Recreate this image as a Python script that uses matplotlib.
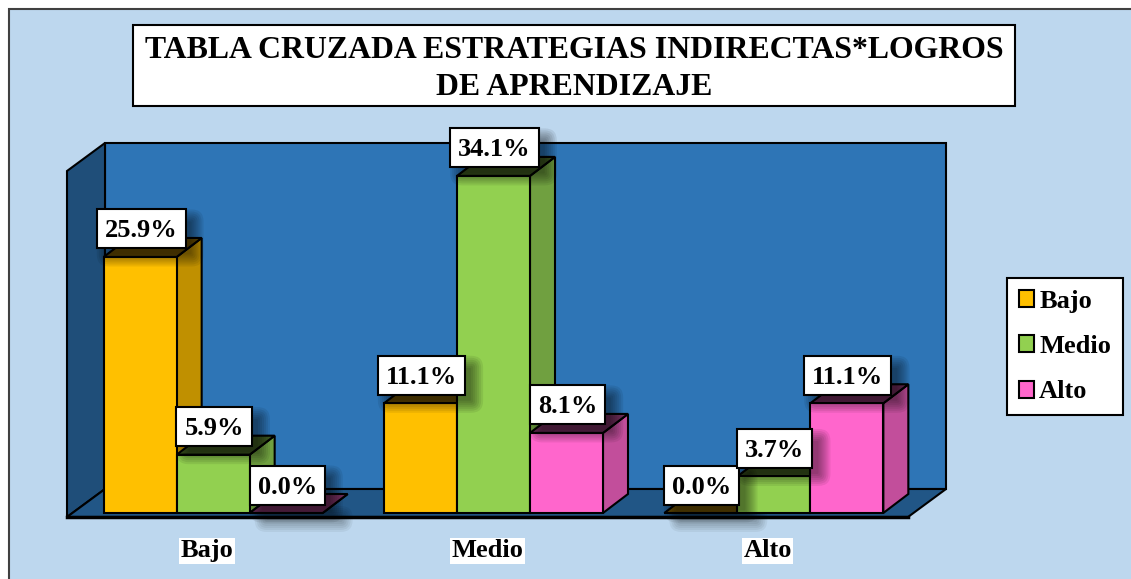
#tabla cruzada estrategias indirectas * logros de aprendizaje, barras 3D falsas
import numpy as np
import matplotlib
matplotlib.use('Agg')
import matplotlib.pyplot as plt
from matplotlib.patches import FancyBboxPatch, Polygon, Rectangle
from matplotlib.transforms import IdentityTransform

categories = ['Bajo', 'Medio', 'Alto']
bajo = [25.9, 11.1, 0.0]
medio = [5.9, 34.1, 3.7]
alto = [0.0, 8.1, 11.1]
series_names = ['Bajo', 'Medio', 'Alto']
title = 'TABLA CRUZADA ESTRATEGIAS INDIRECTAS*LOGROS\nDE APRENDIZAJE'

W, H = 1131, 579
plt.rcParams['font.family'] = ['Liberation Serif', 'DejaVu Serif']
plt.rcParams['font.weight'] = 'bold'

# colores: frente, lado, arriba
colors = [('#FFC000', '#C09000', '#6E5200'),
          ('#92D050', '#70A040', '#3F5A22'),
          ('#FF66CC', '#C24E9B', '#74305F')]
BG = '#BDD7EE'


def fx(px):
    return px / W


def fy(py):
    return 1 - py / H


def soft_shadow(ax, xa, ya, xb, yb, z, strength=0.075):
    # capas de rectangulos redondeados, en pixeles de pantalla
    for grow in [9, 7, 5, 3, 1, -1, -3]:
        ax.add_patch(FancyBboxPatch((xa - grow, ya - grow), xb - xa + 2 * grow, yb - ya + 2 * grow,
                                    boxstyle='round,pad=0,rounding_size=%g' % max(grow + 3, 1),
                                    transform=IdentityTransform(), fc='black', ec='none',
                                    alpha=strength, clip_on=False, zorder=z))


fig = plt.figure(figsize=(W / 100, H / 100), dpi=100, facecolor='white')
fig.add_artist(Rectangle((fx(9), fy(H + 20)), fx(W + 20), fy(9) - fy(H + 20),
                         transform=fig.transFigure, fc=BG, ec='#404040', lw=1.5, zorder=-5))

ax = fig.add_axes([fx(67), fy(517), fx(908) - fx(67), fy(171) - fy(517)])
ax.set_xlim(-0.5, 2.5)
ax.set_ylim(0, 35)
ax.patch.set_visible(False)
for s in ax.spines.values():
    s.set_visible(False)
ax.set_yticks([])

px_x = 280.33  # pixeles por categoria
px_y = 346 / 35  # pixeles por punto porcentual
wall_dx, wall_dy = 38 / px_x, 28 / px_y
bar_dx, bar_dy = 25 / px_x, 19 / px_y
bar_w = 73 / px_x
shift_x, base_y = 6 / px_x, 4 / px_y

# paredes y piso
x0, x1, y1 = -0.5, 2.5, 35
ax.add_patch(Polygon([(x0 + wall_dx, wall_dy), (x1 + wall_dx, wall_dy), (x1 + wall_dx, y1 + wall_dy),
                      (x0 + wall_dx, y1 + wall_dy)], fc='#2E75B6', ec='black', lw=1.5, clip_on=False, zorder=1))
ax.add_patch(Polygon([(x0, 0), (x0 + wall_dx, wall_dy), (x0 + wall_dx, y1 + wall_dy), (x0, y1)],
                     fc='#1F4E79', ec='black', lw=1.5, clip_on=False, zorder=1))
ax.add_patch(Polygon([(x0, 0), (x0 + wall_dx, wall_dy), (x1 + wall_dx, wall_dy), (x1, 0)],
                     fc='#215686', ec='black', lw=1.5, clip_on=False, zorder=1))
ax.plot([x0, x1], [0, 0], color='black', lw=2.5, clip_on=False, zorder=2)

renderer = fig.canvas.get_renderer()
x = np.arange(len(categories))
all_values = [bajo, medio, alto]
handles = []
for j, vals in enumerate(all_values):
    face, side, top = colors[j]
    pos = x + shift_x + (j - 1) * bar_w
    bars = ax.bar(pos, vals, bar_w, bottom=base_y, color=face, edgecolor='black', linewidth=1.5,
                  label=series_names[j], clip_on=False)
    handles.append(bars)
    for i, rect in enumerate(bars):
        z = 3 + i * 10 + j * 3
        rect.set_zorder(z + 2)
        l, r = rect.get_x(), rect.get_x() + bar_w
        b, t = base_y, base_y + vals[i]
        ax.add_patch(Polygon([(r, b), (r + bar_dx, b + bar_dy), (r + bar_dx, t + bar_dy), (r, t)],
                             fc=side, ec='black', lw=1.5, clip_on=False, zorder=z))
        ax.add_patch(Polygon([(l, t), (l + bar_dx, t + bar_dy), (r + bar_dx, t + bar_dy), (r, t)],
                             fc=top, ec='black', lw=1.5, clip_on=False, zorder=z + 1))

        # etiqueta con su caja blanca y sombra difusa
        cx, cy = ax.transData.transform((pos[i], t))
        cx += 1
        cy += 28
        txt = ax.annotate(f'{vals[i]:.1f}%', (pos[i], t), xytext=(0.7, 18.7), textcoords='offset points',
                          ha='center', va='center', fontsize=19, fontweight='bold', color='black', zorder=70)
        half = txt.get_window_extent(renderer).width / 2 + 8
        soft_shadow(ax, cx - half + 9, cy - 19.5 - 9, cx + half + 9, cy + 19.5 - 9, 60)
        ax.add_patch(Rectangle((cx - half, cy - 19.5), 2 * half, 39, transform=IdentityTransform(),
                               fc='white', ec='black', lw=1.5, clip_on=False, zorder=69))
        if vals[i] == 0:
            # sombra de la barra sin altura sobre el piso
            bx, by = ax.transData.transform((l, 0))
            ex = ax.transData.transform((r + bar_dx, 0))[0]
            soft_shadow(ax, bx + 14, by - 6, ex - 4, by + 2, 2.5, strength=0.05)

ax.set_xticks(x)
ax.set_xticklabels(categories, fontsize=19, fontweight='bold',
                   bbox=dict(boxstyle='square,pad=0.05', fc='white', ec='none'))
ax.tick_params(axis='x', length=0, pad=16)

leg = ax.legend(handles=handles, loc='upper left', bbox_to_anchor=(fx(1007), fy(278)), bbox_transform=fig.transFigure,
                borderaxespad=0, fontsize=19, handlelength=0.58, handleheight=0.62, handletextpad=0.2,
                labelspacing=0.85, borderpad=0.44, fancybox=False, framealpha=1, edgecolor='black')
leg.get_frame().set_linewidth(1.5)
leg.set_zorder(100)

# titulo en su caja
fig.add_artist(Rectangle((fx(133), fy(106)), fx(1015) - fx(133), fy(25) - fy(106), transform=fig.transFigure,
                         fc='white', ec='black', lw=1.5, zorder=5))
fig.text(fx(574), fy(69), title, ha='center', va='center', fontsize=22.9, fontweight='bold',
         linespacing=1.37, zorder=6)

fig.savefig('out.png', dpi=100, facecolor=fig.get_facecolor())
